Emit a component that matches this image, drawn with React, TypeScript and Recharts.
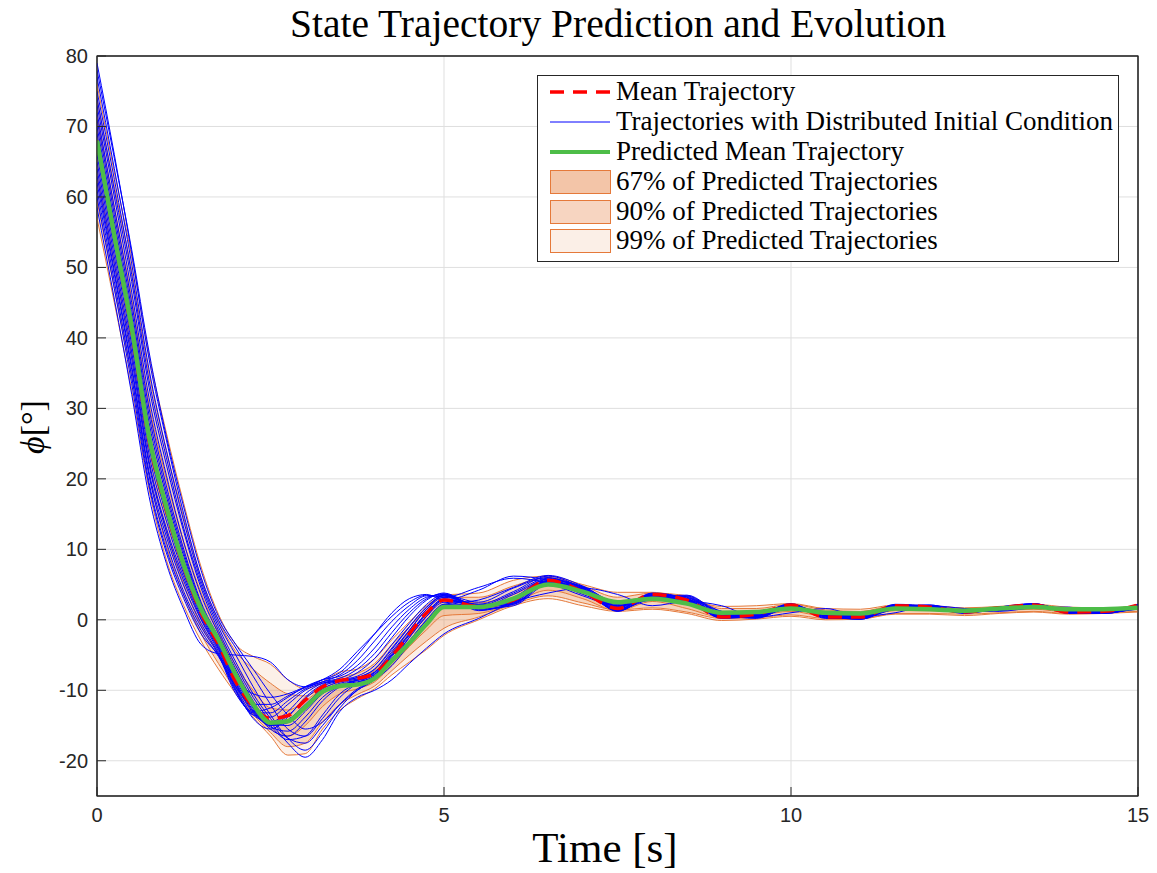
import React from 'react';
import {
  ComposedChart,
  Line,
  Area,
  XAxis,
  YAxis,
  CartesianGrid,
  Legend,
  Customized,
} from 'recharts';

// Sample times [s]: 0.25 s steps up to 5 s, then 0.5 s steps.
const TIME = [
  0, 0.25, 0.5, 0.75, 1, 1.25, 1.5, 1.75, 2, 2.25, 2.5, 2.75, 3, 3.25, 3.5, 3.75, 4, 4.25, 4.5, 4.75, 5,
  5.5, 6, 6.5, 7, 7.5, 8, 8.5, 9, 9.5, 10, 10.5, 11, 11.5, 12, 12.5, 13, 13.5, 14, 14.5, 15,
];

// Mean of the simulated trajectories [deg]
const MEAN_TRAJ = [
  68, 54.5, 41, 25.5, 15.5, 7.5, 1.0, -3.5, -8.8, -12.3, -14.0, -13.6, -11.4, -9.5, -8.6, -8.3, -7.6, -5.2, -2.0, 1.0, 2.8,
  1.9, 2.8, 5.6, 4.0, 1.6, 3.6, 2.8, 0.4, 0.8, 2.1, 0.4, 0.4, 2.0, 1.8, 1.1, 1.7, 2.1, 1.1, 1.2, 2.1,
];

// Predicted mean trajectory [deg]
const PRED_MEAN = [
  68, 54.5, 41.5, 26, 16, 7.8, 1.5, -2.8, -7.8, -12, -14.6, -14.4, -12.4, -10.2, -9.4, -9.2, -8.3, -5.8, -3.3, -0.6, 1.8,
  1.8, 3.0, 5.0, 4.0, 2.5, 3.0, 2.3, 1.0, 1.1, 1.6, 1.0, 0.9, 1.6, 1.5, 1.3, 1.6, 1.8, 1.5, 1.5, 1.7,
];

// Prediction bands (lower / upper) [deg]
const BAND99_LO = [
  57, 45, 32.5, 18.5, 8.5, 2, -3, -7, -10.5, -13.8, -16.5, -19.2, -19, -15.5, -12.8, -11.2, -9.8, -7.8, -6, -4.2, -2.2,
  0, 2.0, 3.0, 2.0, 1.2, 1.5, 0.9, -0.1, 0.1, 0.5, 0, 0.1, 0.8, 0.8, 0.6, 0.9, 1.1, 0.8, 0.9, 1.1,
];
const BAND99_HI = [
  76, 63.5, 51.5, 37.5, 26.5, 16.5, 7.5, 0.8, -3.5, -5.2, -6.3, -8.5, -9.8, -8.8, -7.4, -7.0, -5.5, -2.8, -0.3, 2.0, 3.5,
  3.8, 5.6, 6.2, 5.0, 3.9, 3.9, 3.0, 1.9, 2.0, 2.3, 1.6, 1.5, 2.1, 2.0, 1.7, 1.9, 2.2, 1.8, 1.7, 1.9,
];
const BAND90_LO = [
  59.5, 47, 34.5, 20.5, 10.5, 3.5, -2, -6.2, -10, -13.4, -16, -18, -17.5, -14.5, -12, -10.6, -9.4, -7.2, -5, -3, -1.2,
  0.4, 2.2, 3.4, 2.4, 1.4, 1.7, 1.1, 0.2, 0.3, 0.7, 0.2, 0.2, 0.9, 0.9, 0.8, 1.0, 1.2, 0.9, 1.0, 1.2,
];
const BAND90_HI = [
  74, 61.5, 49.5, 35, 24, 14.5, 6, -0.1, -4.5, -7, -9, -10.5, -10.8, -9.5, -8.2, -7.6, -6.2, -3.5, -1, 1.5, 3.2,
  3.2, 4.8, 6.0, 4.8, 3.2, 3.8, 3.4, 1.6, 1.6, 2.2, 1.4, 1.2, 2.0, 2.0, 1.6, 1.8, 2.1, 1.6, 1.6, 1.9,
];
const BAND67_LO = [
  63, 50.5, 37.5, 22.5, 12.5, 5, -0.8, -4.8, -9.5, -13, -15.5, -16.5, -15, -12.3, -10.5, -9.8, -8.8, -6.4, -3.8, -1.4, 0.6,
  0.9, 2.4, 4.2, 3.0, 1.3, 2.6, 1.6, 0.4, 0.6, 1.2, 0.5, 0.5, 1.3, 1.3, 1.1, 1.3, 1.5, 1.1, 1.2, 1.5,
];
const BAND67_HI = [
  71.5, 58.5, 45.5, 30.5, 20, 11, 3.8, -1.8, -6.5, -10, -12.5, -12.8, -11.5, -9.8, -8.8, -8.4, -7.2, -4.6, -1.8, 0.8, 2.8,
  2.4, 3.6, 5.6, 4.4, 2.6, 3.3, 2.8, 1.2, 1.3, 1.9, 1.2, 1.0, 1.8, 1.8, 1.5, 1.7, 1.9, 1.5, 1.5, 1.8,
];

// Simulated trajectories from distributed initial conditions [deg]
const TRAJ_01 = [79, 66, 52, 37, 25.5, 15, 6, 0, -4, -8, -12, -15.5, -16.5, -14, -11, -9, -7.5, -4.5, -1.5, 1.5, 3.5, 2.5, 4.5, 6.0, 4.2, 2.2, 3.5, 2.6, 0.8, 0.9, 1.9, 0.8, 0.7, 1.8, 1.7, 1.2, 1.6, 2.0, 1.3, 1.3, 1.9];
const TRAJ_02 = [77, 64, 50.5, 35.5, 24, 14, 5.5, -0.5, -5, -9.5, -13.5, -16.8, -18.5, -16, -12.5, -10, -8.5, -6, -2.5, 0.5, 2.8, 2.2, 4.0, 6.2, 4.5, 2.0, 3.2, 2.9, 0.9, 0.6, 1.8, 1.0, 0.5, 1.7, 1.9, 1.2, 1.5, 2.0, 1.4, 1.2, 1.8];
const TRAJ_03 = [74, 61, 48, 33, 22, 12.5, 4.5, -1.5, -6.5, -11, -14.5, -17.5, -19.5, -17, -13, -11, -10, -8.5, -6.2, -4, -2, 0.2, 2.5, 3.8, 4.5, 3.6, 2.0, 2.6, 2.0, 0.4, 1.0, 1.6, 0.5, 1.0, 2.0, 1.6, 1.2, 1.7, 1.8, 1.1, 1.5];
const TRAJ_04 = [72, 58.5, 45, 30, 19, 10, 2.5, -2.5, -8, -12.5, -15.5, -16.5, -14.5, -11.5, -9.5, -8.5, -7.5, -5, -2, 1, 3, 2.0, 3.2, 5.8, 4.4, 1.8, 3.4, 2.7, 0.6, 0.8, 2.0, 0.6, 0.5, 1.9, 1.8, 1.1, 1.7, 2.0, 1.2, 1.3, 2.0];
const TRAJ_05 = [70, 56.5, 43, 28, 17.5, 9, 2, -3, -8.5, -12.5, -14.8, -15, -13, -10.5, -9.2, -8.8, -8, -5.5, -2.5, 0.5, 2.5, 1.8, 3.0, 5.2, 4.0, 2.0, 3.0, 2.5, 0.7, 0.9, 1.8, 0.8, 0.7, 1.7, 1.7, 1.2, 1.6, 1.9, 1.3, 1.3, 1.9];
const TRAJ_06 = [68, 54.5, 41, 25.5, 15.5, 7.5, 1, -3.5, -9, -13, -15, -14.2, -12, -9.8, -8.8, -8.4, -7.4, -4.8, -1.5, 1.5, 3.2, 2.2, 2.6, 5.5, 4.2, 1.5, 3.7, 2.9, 0.3, 0.7, 2.2, 0.3, 0.3, 2.1, 1.8, 1.0, 1.8, 2.2, 1.0, 1.2, 2.2];
const TRAJ_07 = [66, 52.5, 39, 23.5, 14, 6.5, 0.5, -4, -9.5, -13.5, -14.5, -13, -10.5, -9, -8.5, -8, -6.5, -3.5, -0.5, 2.2, 3.6, 2.0, 2.2, 5.3, 4.0, 1.4, 3.8, 3.0, 0.2, 0.6, 2.3, 0.2, 0.2, 2.2, 1.9, 0.9, 1.8, 2.3, 0.9, 1.1, 2.2];
const TRAJ_08 = [64, 50.5, 37, 22, 12.5, 5.5, 0, -4.5, -10, -13.5, -13.8, -12, -10, -9, -8.6, -7.5, -5.5, -2.5, 0.5, 2.8, 3.8, 1.6, 2.0, 5.0, 4.3, 1.2, 3.5, 3.2, 0.4, 0.4, 2.2, 0.5, 0.1, 2.0, 2.0, 1.0, 1.6, 2.3, 1.0, 1.0, 2.1];
const TRAJ_09 = [62, 49, 35.5, 20.5, 11, 4, -1, -5, -10.5, -13, -12.5, -11, -9.5, -8.5, -8, -6.5, -4, -1, 1.5, 3.2, 3.6, 1.4, 2.4, 5.4, 4.6, 1.3, 3.2, 3.4, 0.7, 0.3, 2.0, 0.7, 0.1, 1.8, 2.1, 1.1, 1.4, 2.2, 1.2, 0.9, 1.9];
const TRAJ_10 = [60, 47, 33.5, 19, 9.5, 3, -2, -5, -8.5, -10.5, -11, -10.5, -9.5, -8.5, -7, -4.5, -2, 0.5, 2.5, 3.5, 3.2, 4.6, 5.9, 5.2, 3.4, 2.0, 3.0, 3.0, 1.0, 0.5, 1.7, 0.9, 0.3, 1.6, 2.0, 1.2, 1.4, 2.0, 1.4, 1.0, 1.7];
const TRAJ_11 = [58.5, 45.5, 32, 17.5, 8, 1.5, -3.5, -4.8, -5, -5.2, -6, -8.5, -9.5, -8.5, -7.5, -5, -2, 1.0, 3, 3.6, 2.8, 4.2, 6.2, 5.6, 3.6, 2.2, 2.8, 3.1, 1.2, 0.4, 1.6, 1.1, 0.3, 1.5, 2.0, 1.3, 1.3, 2.0, 1.5, 1.0, 1.6];
const TRAJ_12 = [78, 65.5, 52.5, 38, 26, 16, 7, 0.5, -3.5, -7, -10.5, -13.5, -15.5, -14.5, -12, -10, -8.5, -6, -3, 0, 2.2, 2.8, 4.6, 6.3, 4.8, 2.4, 3.2, 2.4, 1.0, 1.0, 1.7, 1.0, 0.8, 1.6, 1.7, 1.3, 1.5, 1.9, 1.4, 1.4, 1.8];
const TRAJ_13 = [73, 60, 46.5, 31.5, 20.5, 11, 3.5, -2, -7, -11.5, -15, -17, -16.5, -13.5, -10.5, -9, -8, -5.8, -3, 0, 2.2, 2.0, 3.8, 5.9, 4.6, 2.3, 3.0, 2.6, 0.9, 0.7, 1.7, 0.9, 0.6, 1.7, 1.8, 1.2, 1.5, 1.9, 1.3, 1.3, 1.8];
const TRAJ_14 = [65, 51.5, 38, 22.5, 13, 6, 0.2, -4.2, -9.8, -14, -15.5, -13.8, -11, -9.2, -8.6, -8.2, -7, -4, -1, 1.8, 3.4, 1.8, 2.3, 5.2, 4.1, 1.3, 3.6, 3.0, 0.3, 0.5, 2.2, 0.4, 0.2, 2.1, 1.9, 1.0, 1.7, 2.2, 1.0, 1.1, 2.1];
const TRAJ_15 = [61, 48, 34.5, 19.5, 10, 3.5, -1.5, -5.2, -9.5, -12, -12, -10.8, -9.6, -8.8, -7.8, -5.8, -3, -0.2, 2, 3.4, 3.4, 1.3, 2.6, 5.6, 4.7, 1.5, 3.0, 3.5, 0.8, 0.2, 1.9, 0.8, 0.1, 1.7, 2.1, 1.1, 1.4, 2.2, 1.3, 0.9, 1.8];
const TRAJ_16 = [75, 62.5, 49, 34, 23, 13, 5, -1, -6, -10.5, -14, -16.8, -17.5, -15, -12, -9.8, -8.5, -6.5, -3.5, -0.5, 2.0, 1.7, 3.6, 5.7, 4.7, 2.5, 2.8, 2.8, 1.2, 0.6, 1.6, 1.1, 0.6, 1.6, 1.9, 1.3, 1.5, 1.9, 1.5, 1.2, 1.8];
const TRAJ_17 = [67, 53.5, 40, 24.5, 14.8, 7, 0.8, -3.8, -9.2, -13.2, -14.8, -13.6, -11.2, -9.4, -8.7, -8.2, -7, -4.2, -1, 1.8, 3.4, 2.1, 2.4, 5.4, 4.1, 1.4, 3.7, 3.0, 0.3, 0.6, 2.2, 0.3, 0.2, 2.1, 1.9, 1.0, 1.7, 2.2, 1.0, 1.1, 2.1];
const TRAJ_18 = [63, 49.5, 36, 21, 11.8, 4.8, -0.5, -4.8, -10.2, -13.2, -13.2, -11.5, -9.8, -8.8, -8.3, -7, -4.8, -1.8, 1, 3, 3.7, 1.5, 2.2, 5.2, 4.4, 1.2, 3.4, 3.3, 0.5, 0.3, 2.1, 0.6, 0.1, 1.9, 2.0, 1.0, 1.5, 2.3, 1.1, 0.9, 2.0];
const TRAJ_19 = [71, 57.5, 44, 29, 18.2, 9.5, 2.2, -2.8, -8.2, -12.5, -15.2, -15.8, -13.8, -11, -9.4, -8.6, -7.8, -5.2, -2.2, 0.8, 2.8, 1.9, 3.1, 5.5, 4.2, 1.9, 3.2, 2.6, 0.6, 0.8, 1.9, 0.7, 0.6, 1.8, 1.8, 1.1, 1.6, 2.0, 1.2, 1.3, 1.9];
const TRAJ_20 = [69, 55.5, 42, 26.8, 16.5, 8.2, 1.5, -3.2, -8.8, -12.8, -15, -14.6, -12.5, -10.2, -9, -8.6, -7.7, -5, -2, 1, 2.9, 2.0, 2.8, 5.4, 4.1, 1.7, 3.4, 2.7, 0.5, 0.8, 2.0, 0.5, 0.5, 1.9, 1.8, 1.1, 1.7, 2.1, 1.1, 1.2, 2.0];

const TRAJECTORIES = [
  TRAJ_01, TRAJ_02, TRAJ_03, TRAJ_04, TRAJ_05, TRAJ_06, TRAJ_07, TRAJ_08, TRAJ_09, TRAJ_10,
  TRAJ_11, TRAJ_12, TRAJ_13, TRAJ_14, TRAJ_15, TRAJ_16, TRAJ_17, TRAJ_18, TRAJ_19, TRAJ_20,
];

const X_TICKS = [0, 5, 10, 15];
const Y_TICKS = [-20, -10, 0, 10, 20, 30, 40, 50, 60, 70, 80];

const rows = TIME.map((t, i) => {
  const row: Record<string, number | number[]> = {
    t,
    mean: MEAN_TRAJ[i],
    pred: PRED_MEAN[i],
    r99: [BAND99_LO[i], BAND99_HI[i]],
    r90: [BAND90_LO[i], BAND90_HI[i]],
    r67: [BAND67_LO[i], BAND67_HI[i]],
  };
  TRAJECTORIES.forEach((traj, k) => {
    row[`traj${k}`] = traj[i];
  });
  return row;
});

const CHART_W = 1141;
const CHART_H = 873;
const MARGIN = { top: 56, right: 11, bottom: 0, left: 0 };
const Y_AXIS_W = 89;
const X_AXIS_H = 77;

const AXIS_COLOR = '#262626';
const GRID_COLOR = '#dfdfdf';
const BAND_EDGE = '#e5793a';
const BAND_FILL = '#e8803e';
const GREEN = '#4dbd48';
const RED = '#ff0000';
const BLUE = '#0000ff';
const SERIF = "'Liberation Serif', 'Times New Roman', 'DejaVu Serif', serif";
const SANS = "'Liberation Sans', Arial, Helvetica, sans-serif";
const TICK_FONT = 20;

const LEGEND_ROWS = [17, 47, 77, 107, 137, 166];

function XTick(props: any) {
  const { x, y, payload } = props;
  return (
    <text x={x} y={y} dy={TICK_FONT * 0.72} textAnchor="middle" fontFamily={SANS} fontSize={TICK_FONT} fill={AXIS_COLOR}>
      {payload.value}
    </text>
  );
}

function YTick(props: any) {
  const { x, y, payload } = props;
  return (
    <text x={x} y={y} dy={TICK_FONT * 0.35} textAnchor="end" fontFamily={SANS} fontSize={TICK_FONT} fill={AXIS_COLOR}>
      {payload.value}
    </text>
  );
}

function LegendBox() {
  const textProps = {
    x: 79,
    fontFamily: SERIF,
    fontSize: 27,
    fill: '#000',
  };
  return (
    <svg width={582} height={187} style={{ display: 'block' }}>
      <rect x={0.5} y={0.5} width={581} height={186} fill="#ffffff" stroke={AXIS_COLOR} strokeWidth={1} />
      <line x1={13} x2={73} y1={LEGEND_ROWS[0]} y2={LEGEND_ROWS[0]} stroke={RED} strokeWidth={3.5} strokeDasharray="14 9" />
      <text {...textProps} y={LEGEND_ROWS[0] + 8}>Mean Trajectory</text>
      <line x1={13} x2={73} y1={LEGEND_ROWS[1]} y2={LEGEND_ROWS[1]} stroke={BLUE} strokeWidth={1} />
      <text {...textProps} y={LEGEND_ROWS[1] + 8}>Trajectories with Distributed Initial Condition</text>
      <line x1={13} x2={73} y1={LEGEND_ROWS[2]} y2={LEGEND_ROWS[2]} stroke={GREEN} strokeWidth={4} />
      <text {...textProps} y={LEGEND_ROWS[2] + 8}>Predicted Mean Trajectory</text>
      <rect x={13.5} y={LEGEND_ROWS[3] - 11.5} width={60} height={23} fill="#f3c5a8" stroke={BAND_EDGE} />
      <text {...textProps} y={LEGEND_ROWS[3] + 8}>67% of Predicted Trajectories</text>
      <rect x={13.5} y={LEGEND_ROWS[4] - 11.5} width={60} height={23} fill="#f7d5c1" stroke={BAND_EDGE} />
      <text {...textProps} y={LEGEND_ROWS[4] + 8}>90% of Predicted Trajectories</text>
      <rect x={13.5} y={LEGEND_ROWS[5] - 11.5} width={60} height={23} fill="#fbefe7" stroke={BAND_EDGE} />
      <text {...textProps} y={LEGEND_ROWS[5] + 8}>99% of Predicted Trajectories</text>
    </svg>
  );
}

// Title, axis labels and the box framing the axes
function Labels() {
  const plotLeft = MARGIN.left + Y_AXIS_W;
  const plotTop = MARGIN.top;
  const plotW = CHART_W - plotLeft - MARGIN.right;
  const plotH = CHART_H - plotTop - MARGIN.bottom - X_AXIS_H;
  return (
    <g>
      <rect x={plotLeft} y={plotTop} width={plotW} height={plotH} fill="none" stroke={AXIS_COLOR} strokeWidth={1.2} />
      <text x={610} y={37} textAnchor="middle" fontFamily={SERIF} fontSize={39.5} fill="#000">
        State Trajectory Prediction and Evolution
      </text>
      <text x={597} y={862} textAnchor="middle" fontFamily={SERIF} fontSize={43} fill="#000">
        Time [s]
      </text>
      <text
        transform="translate(36,427) rotate(-90)"
        textAnchor="middle"
        fontFamily={SERIF}
        fontSize={34}
        fill="#000"
      >
        <tspan fontStyle="italic">ϕ</tspan>
        <tspan>[°]</tspan>
      </text>
    </g>
  );
}

export default function App() {
  return (
    <div style={{ position: 'absolute', left: 8, top: 0 }}>
      <ComposedChart width={CHART_W} height={CHART_H} data={rows} margin={MARGIN}>
        <CartesianGrid stroke={GRID_COLOR} strokeWidth={1} />
        <XAxis
          dataKey="t"
          type="number"
          domain={[0, 15]}
          ticks={X_TICKS}
          allowDataOverflow
          height={X_AXIS_H}
          tickSize={-9}
          tickMargin={21}
          axisLine={{ stroke: AXIS_COLOR }}
          tickLine={{ stroke: AXIS_COLOR }}
          tick={<XTick />}
        />
        <XAxis
          xAxisId="top"
          orientation="top"
          type="number"
          domain={[0, 15]}
          ticks={X_TICKS}
          allowDataOverflow
          mirror
          height={1}
          tickSize={9}
          tick={false}
          axisLine={{ stroke: AXIS_COLOR }}
          tickLine={{ stroke: AXIS_COLOR }}
        />
        <YAxis
          type="number"
          domain={[-25, 80]}
          ticks={Y_TICKS}
          allowDataOverflow
          width={Y_AXIS_W}
          tickSize={-9}
          tickMargin={18}
          axisLine={{ stroke: AXIS_COLOR }}
          tickLine={{ stroke: AXIS_COLOR }}
          tick={<YTick />}
        />
        <YAxis
          yAxisId="right"
          orientation="right"
          type="number"
          domain={[-25, 80]}
          ticks={Y_TICKS}
          allowDataOverflow
          mirror
          width={1}
          tickSize={9}
          tick={false}
          axisLine={{ stroke: AXIS_COLOR }}
          tickLine={{ stroke: AXIS_COLOR }}
        />

        {TRAJECTORIES.map((_, k) => (
          <Line
            key={`traj${k}`}
            dataKey={`traj${k}`}
            type="monotone"
            stroke={BLUE}
            strokeWidth={1}
            dot={false}
            activeDot={false}
            isAnimationActive={false}
          />
        ))}

        <Area dataKey="r99" type="monotone" fill={BAND_FILL} fillOpacity={0.12} stroke={BAND_EDGE} strokeWidth={1} dot={false} activeDot={false} isAnimationActive={false} />
        <Area dataKey="r90" type="monotone" fill={BAND_FILL} fillOpacity={0.24} stroke={BAND_EDGE} strokeWidth={1} dot={false} activeDot={false} isAnimationActive={false} />
        <Area dataKey="r67" type="monotone" fill={BAND_FILL} fillOpacity={0.2} stroke={BAND_EDGE} strokeWidth={1} dot={false} activeDot={false} isAnimationActive={false} />

        <Line dataKey="mean" type="monotone" stroke={RED} strokeWidth={3.5} strokeDasharray="14 9" dot={false} activeDot={false} isAnimationActive={false} />
        <Line dataKey="pred" type="monotone" stroke={GREEN} strokeWidth={4.5} dot={false} activeDot={false} isAnimationActive={false} />

        <Legend
          layout="horizontal"
          verticalAlign="middle"
          align="center"
          content={() => <LegendBox />}
          wrapperStyle={{ position: 'absolute', left: 529, top: 75, width: 582, height: 187 }}
        />
        <Customized component={<Labels />} />
      </ComposedChart>
    </div>
  );
}
